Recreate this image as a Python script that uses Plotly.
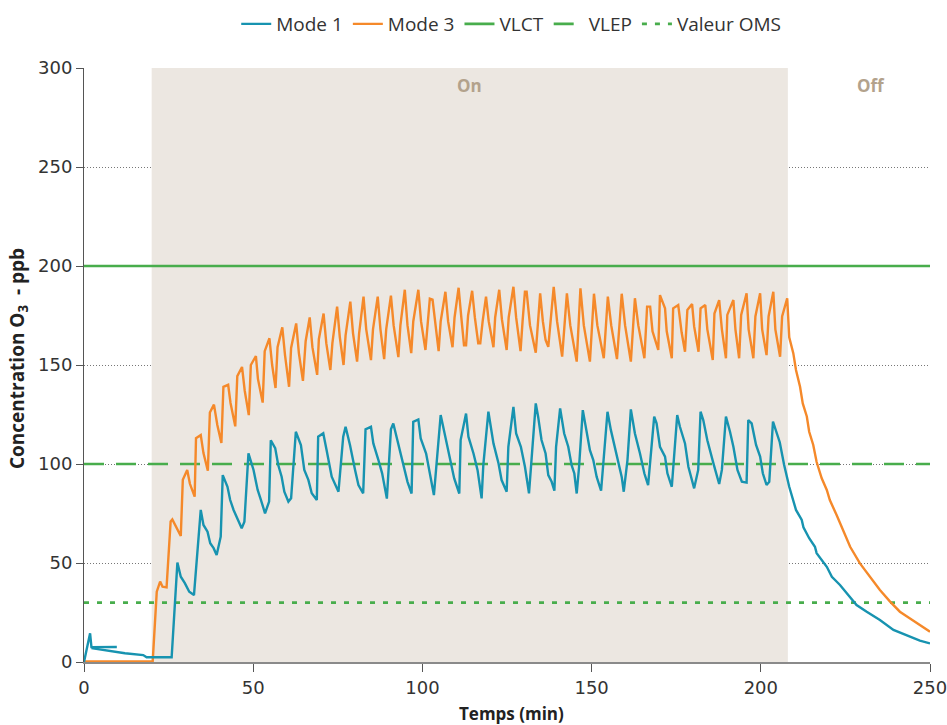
import plotly.graph_objects as go

# ---------------- data ----------------
mode1_t = [0, 0.8, 1.8, 2.2, 9.7, None,
           2.2, 5, 8.7, 12.1, 17.5, 18.5, 25.9, 27.6, 28.6, 29.8, 31.1, 32.5, 34.5, 35.3, 36.5, 37.3, 38.3, 39.2,
           40.4, 41, 42.4, 43.2, 44.2, 45.4, 46.6, 47.4, 48.6, 50.1, 51.3, 52.3, 53.5, 54.7, 55.2, 56.5,
           57.4, 58.4, 59.2, 60.4, 61.2, 62.6, 64.1, 65.1, 66.3, 67.3, 68.8, 69.2, 70.7, 71.7, 73.2, 75.2,
           76.6, 77.3, 78.6, 80.1, 81.1, 82.5, 83.2, 84.8, 85.5, 87, 88.1, 89.5, 90.7, 91.4, 93.4, 94.6,
           95.6, 96.8, 97.3, 98.8, 99.5, 101.1, 102.3, 103.4, 105.4, 106.7, 108, 109.4, 110.9, 111.3, 112.9,
           113.6, 115.1, 116.3, 117.5, 118, 119.5, 121, 122.5, 123.4, 124.9, 125.4, 126.9, 127.7, 129.1,
           130.3, 131.5, 132.5, 133.5, 134.2, 135.2, 136.4, 137.2, 138.2, 139, 139.5, 140.7, 141.9, 143.1,
           144.1, 144.9, 145.6, 146.3, 147.4, 148.5, 149.5, 150.5, 151.5, 152.8, 153.7, 154.7, 155.7, 156.9,
           157.9, 158.9, 159.5, 160.6, 161.6, 162.8, 164.3, 165.6, 166.7, 167.7, 168.5, 169.2, 170.2, 171.7,
           172.4, 173.7, 175.3, 176.1, 177.6, 178.6, 180.3, 181.5, 182.2, 183, 184.2, 186, 187.7, 188.5,
           189.7, 190.9, 191.9, 193.1, 194.4, 195.8, 196.3, 197.3, 198.6, 199.8, 200.6, 201.7, 202.5, 203.6,
           205.6, 206.9, 208.4, 210.4, 212.1, 212.6, 214.3, 216, 216.5, 219.5, 221, 223.4, 225.9, 228.3,
           231.3, 235.2, 239.2, 244.1, 247, 250]
mode1_y = [0, 7, 14.5, 7.5, 7.6, None,
           7, 6.3, 5.2, 4.4, 3.5, 2.4, 2.4, 50.2, 43.1, 39.8, 35.5, 33.8, 76.8, 69.2, 65.8, 60, 57.5, 54,
           63.3, 94.4, 88.5, 81.8, 76.8, 71.7, 67.5, 70.9, 105.4, 97, 87, 81.8, 75.1, 81, 112, 108,
           99.5, 93.6, 86, 81, 82.7, 116.3, 109.6, 97, 92, 85.2, 81.8, 113.8, 115.5, 107, 93.6, 86,
           113.8, 118.8, 109.6, 97, 89.4, 85.2, 117.5, 118.8, 110.4, 102, 95.3, 82.5, 117.5, 120.5, 106, 97,
           91, 85.1, 121.3, 122.5, 112.9, 105.3, 94.4, 84.3, 124.7, 113.8, 102.8, 92.7, 85.1, 112.1, 125.5,
           113.8, 105.3, 96.9, 82.6, 99.4, 126.4, 110.4, 100.3, 91.9, 86, 108.7, 128.9, 115.4, 108.7,
           98.6, 85.2, 108, 130.6, 123.9, 112.1, 105.3, 94.4, 91, 86.5, 108.7, 128.1, 115.4, 108.7,
           99.4, 95.2, 85.1, 98.6, 127.2, 117.1, 107, 102, 93.5, 86.5, 105.3, 126.4, 117.1, 108.7,
           102, 93.5, 86, 102, 127.6, 115.4, 105.3, 95.2, 89.3, 108.7, 123.9, 120.5, 108.7, 103.7,
           95.3, 88.5, 124.7, 118.8, 110.4, 98.6, 87.7, 97, 126.4, 122.2, 112, 100.3, 89.9, 97,
           124, 116.3, 108.7, 97, 91.1, 90.6, 122.2, 120.5, 109.6, 103.7, 95.3, 89.4, 91, 121.4,
           111, 99.5, 88.5, 76.8, 71.7, 68, 62.5, 58.2, 55, 48.1, 43, 38.9, 33.8, 28.8,
           25.4, 21.2, 16.2, 12.8, 10.8, 9.4]

mode3_t = [0, 20.3, 21.5, 22.5, 23.2, 24.4, 25.6, 26.1, 28.6, 29.2, 30.5, 31.3, 32.7, 33.1, 34.5, 35.3,
           36.6, 37.2, 38.4, 39.4, 40.6, 41.2, 42.6, 43.3, 44.7, 45.3, 46.7, 47.5, 48.7, 49.3, 50.8, 51.4,
           52.8, 53.4, 54.8, 55.6, 56.6, 57.2, 58.6, 59.4, 60.6, 61.2, 62.7, 63.5, 64.7, 65.5, 66.7, 67.5,
           68.9, 69.4, 70.8, 71.6, 72.8, 73.4, 74.8, 75.6, 76.7, 77.3, 78.7, 79.5, 80.7, 81.3, 82.6, 83.4,
           84.8, 85.4, 86.8, 87.6, 88.7, 89.3, 90.7, 91.5, 92.9, 93.5, 94.8, 95.6, 96.7, 97.3, 98.8, 99.6,
           100.9, 101.5, 102.2, 103, 103.8, 104.8, 105.4, 106.8, 107.6, 108.9, 109.5, 110.7, 111.5, 112.3,
           112.9, 113.5, 114.7, 115.5, 116.5, 117.1, 117.8, 118.8, 119.6, 121, 121.5, 122.7, 123.5, 124.9,
           125.5, 126.9, 127.7, 129, 129.6, 130.3, 130.8, 131.8, 133.5, 134.8, 135.6, 136.4, 137.2, 138.8,
           139.8, 141.3, 142.7, 143.7, 145.6, 146.7, 147.7, 149.5, 150.7, 151.7, 153.6, 154.8, 155.8, 157.5,
           158.9, 159.9, 161.6, 162.8, 163.8, 165.6, 166.4, 167.3, 168, 169.7, 170.2, 171.7, 172.2, 173.7,
           174.1, 175.6, 176.6, 177.6, 178.3, 179.7, 180.3, 181.6, 182.2, 183.6, 184.2, 185.8, 186.3, 187.7,
           188.5, 189.7, 190.1, 191.9, 192.5, 193.6, 194.2, 195.8, 196.4, 197.8, 198.4, 199.8, 200.4, 201.7,
           202.3, 203.7, 204.3, 205.7, 206.3, 207.8, 208.4, 209.6, 210.4, 211.6, 212.4, 213.6, 214.3, 215.5,
           216.5, 218, 219.5, 220.4, 222.4, 224.4, 226.4, 229.3, 232.3, 235.2, 238.2, 241.1, 244.1, 247, 250]
mode3_y = [0.3, 0.3, 35.5, 40.6, 38, 37.7, 71, 72, 63.6, 92, 97, 90, 83.5, 113, 114.6, 105.5,
           96.6, 126, 130, 119.7, 110.6, 139, 140, 130.8, 119, 144.4, 149, 137, 124.7, 150, 154.5, 143,
           131, 157, 163.5, 150, 138.4, 159, 169, 155, 139, 158.6, 171, 156, 142, 162, 174, 159,
           145, 163, 176, 161, 147.5, 161, 179.5, 164, 150, 165, 182, 166, 151.7, 166, 184.5, 168,
           152.5, 168, 184.5, 168, 153, 168, 185, 170, 154, 170, 188, 170, 156, 172, 188, 172,
           157.6, 172, 183.5, 183, 170, 157, 172, 187, 172, 159, 174, 189, 174, 160,
           160, 175, 187.5, 174, 161, 161, 172, 184.5, 172, 159, 174, 188, 173, 157.6,
           174, 189.5, 174, 157, 172, 187, 187, 170, 156.2, 186.2, 172, 162.6, 159.2, 189.5,
           172, 154.2, 186.2, 170, 151.7, 188.7, 170, 151.7, 186, 170, 153.4, 184.5, 170, 153,
           186, 170, 151.7, 183.7, 170, 153.4, 179.5, 179.5, 167, 157.6, 185.3, 178.6, 167, 153.4,
           178.6, 180.3, 166.5, 156.7, 177.8, 180.8, 169.5, 156.7, 178.6, 180.3, 168, 152.5, 176, 182.8,
           168, 153.4, 175.3, 182.8, 168, 153.4, 175.3, 186.2, 168, 153.4, 174.5, 186.2, 168, 155,
           174.5, 187, 168, 154.2, 174.5, 183.7, 164, 156, 147.5, 139, 130.6, 124, 116.3, 109.6,
           101, 92.8, 86.9, 81.8, 74.2, 65.8, 58.2, 49.8, 43, 36.4, 30.5, 25.4, 22, 18.7, 15.3]

limit_names = ["VLCT", "VLEP", "Valeur OMS"]
limit_values = [200, 100, 30]
x_span = [0, 250]

phase_labels = ["On", "Off"]
phase_start = [20, 208]
phase_end = [208, 250]
phase_label_x = [114, 232.5]

x_ticks = [0, 50, 100, 150, 200, 250]
y_ticks = [0, 50, 100, 150, 200, 250, 300]

# ---------------- styles ----------------
TEAL = "#1793b0"
ORANGE = "#f5892a"
GREEN = "#48ad4c"
SHADE = "#ece7e1"
PHASE_TXT = "#b3a28c"
limit_dash = ["solid", "20px,12px", "5px,8px"]

fig = go.Figure()

for i, (name, val, dash) in enumerate(zip(limit_names, limit_values, limit_dash)):
    fig.add_trace(go.Scatter(
        x=x_span, y=[val, val], mode="lines", name=name,
        line=dict(color=GREEN, width=2.6, dash=dash),
        legendrank=3 + i, hoverinfo="skip"))

fig.add_trace(go.Scatter(x=mode3_t, y=mode3_y, mode="lines", name="Mode 3",
                         line=dict(color=ORANGE, width=2.4), legendrank=2,
                         connectgaps=False))
fig.add_trace(go.Scatter(x=mode1_t, y=mode1_y, mode="lines", name="Mode 1",
                         line=dict(color=TEAL, width=2.4), legendrank=1,
                         connectgaps=False))

# On shading
fig.add_shape(type="rect", xref="x", yref="y", x0=phase_start[0], x1=phase_end[0],
              y0=0, y1=300, fillcolor=SHADE, line=dict(width=0), layer="between")

for lab, lx in zip(phase_labels, phase_label_x):
    fig.add_annotation(x=lx, y=291, xref="x", yref="y", xanchor="center", yanchor="middle",
                       text="<b>%s</b>" % lab, showarrow=False,
                       font=dict(family="Open Sans", size=17, color=PHASE_TXT))

# axis titles as annotations
fig.add_annotation(x=-0.078, y=0.51, xref="paper", yref="paper", xanchor="center", yanchor="middle",
                   text="<b>Concentration O<sub>3</sub>  - ppb</b>", textangle=-90,
                   showarrow=False, font=dict(family="Open Sans", size=19, color="#222"))
fig.add_annotation(x=0.505, y=-0.086, xref="paper", yref="paper", xanchor="center", yanchor="middle",
                   text="<b>Temps (min)</b>", showarrow=False,
                   font=dict(family="Open Sans", size=17, color="#222"))

fig.update_layout(
    width=947, height=725,
    margin=dict(l=84, r=17, t=68, b=63, autoexpand=False),
    paper_bgcolor="white", plot_bgcolor="white",
    showlegend=True,
    legend=dict(orientation="h", x=0.505, xanchor="center", y=1.074, yanchor="middle",
                font=dict(family="Open Sans", size=19, color="#333"),
                itemwidth=30, tracegroupgap=0, bgcolor="rgba(0,0,0,0)"),
    font=dict(family="DejaVu Sans", color="#333"),
)

fig.update_xaxes(range=[0, 250], tickvals=x_ticks,
                 showgrid=False, zeroline=False, automargin=False,
                 ticklabeloverflow="allow",
                 showline=True, linecolor="#8a8a8a", linewidth=2,
                 ticks="outside", ticklen=8, tickcolor="#555", tickwidth=1,
                 tickfont=dict(family="DejaVu Sans", size=18, color="#333"))
fig.update_yaxes(range=[0, 300], tickvals=y_ticks,
                 showgrid=True, gridcolor="#777", gridwidth=1, griddash="1px,2px",
                 zeroline=False, automargin=False,
                 ticklabeloverflow="allow",
                 showline=True, linecolor="#555", linewidth=1,
                 ticks="outside", ticklen=7, tickcolor="#555", tickwidth=1,
                 tickfont=dict(family="DejaVu Sans", size=18, color="#333"))

fig.write_html("out.html")
